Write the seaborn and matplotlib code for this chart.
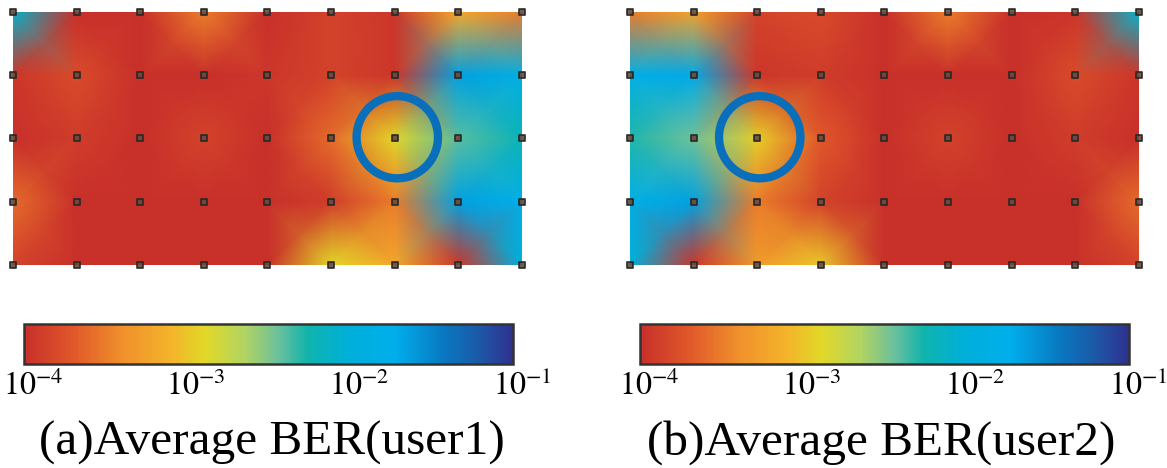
import matplotlib
matplotlib.use("Agg")
import matplotlib.pyplot as plt
import matplotlib.transforms as mtransforms
import numpy as np
import pandas as pd
import seaborn as sns
from matplotlib.colors import LinearSegmentedColormap, LogNorm
from matplotlib.patches import Ellipse

# log10(BER) on a 5 x 9 grid of measurement points (top row first)
user1_log_ber = [
    [-2.1, -4.0, -4.0, -3.5, -4.0, -3.85, -3.95, -3.2, -3.5],
    [-3.95, -3.8, -4.0, -4.0, -3.95, -3.85, -3.95, -1.65, -1.85],
    [-4.0, -3.9, -4.0, -3.85, -4.0, -3.6, -2.9, -2.4, -2.2],
    [-3.6, -4.0, -4.0, -4.0, -4.0, -3.9, -3.5, -1.65, -1.8],
    [-3.85, -4.0, -4.0, -4.0, -4.0, -2.9, -3.2, -3.95, -2.0],
]
user2_log_ber = [
    [-3.5, -3.25, -3.85, -3.8, -4.0, -3.5, -4.0, -3.95, -2.1],
    [-1.8, -1.7, -3.95, -3.9, -4.0, -4.0, -4.0, -3.8, -3.95],
    [-2.3, -2.45, -2.95, -3.7, -4.0, -3.85, -4.0, -3.9, -4.0],
    [-1.8, -1.65, -3.5, -3.85, -4.0, -4.0, -4.0, -4.0, -3.6],
    [-2.0, -3.95, -3.3, -3.0, -4.0, -4.0, -4.0, -4.0, -3.85],
]
captions = ["(a)Average BER(user1)", "(b)Average BER(user2)"]
highlight_points = [(6, 2), (2, 2)]  # (column, row) of the circled point
ber_ticks = [1e-4, 1e-3, 1e-2, 1e-1]
ber_tick_labels = [r"$10^{-4}$", r"$10^{-3}$", r"$10^{-2}$", r"$10^{-1}$"]

sns.set_theme(style="white")
plt.rcParams["font.family"] = ["Liberation Serif", "DejaVu Serif"]
plt.rcParams["mathtext.fontset"] = "stix"
plt.rcParams["text.color"] = "black"

ber_cmap = LinearSegmentedColormap.from_list(
    "ber",
    [
        (0.00, "#c8302a"),
        (0.10, "#e0582a"),
        (0.20, "#f0902c"),
        (0.30, "#f4b42a"),
        (0.37, "#e2d828"),
        (0.45, "#b2d462"),
        (0.52, "#6cc09c"),
        (0.58, "#10b4ac"),
        (0.66, "#00b0d8"),
        (0.76, "#00aeec"),
        (0.86, "#0878c0"),
        (0.93, "#1c5aa8"),
        (1.00, "#2e3190"),
    ],
)

fig = plt.figure(figsize=(11.67, 4.68), dpi=100)

panels = [
    (user1_log_ber, 0.0111, 0.0206, 0.233),
    (user2_log_ber, 0.5398, 0.5484, 0.755),
]

for i, (grid, ax_left, cb_left, cap_x) in enumerate(panels):
    values = np.array(grid)
    n_rows, n_cols = values.shape

    ax = fig.add_axes([ax_left, 0.4338, 0.4362, 0.5406])
    ax.pcolormesh(
        np.arange(n_cols), np.arange(n_rows), values,
        shading="gouraud", cmap=ber_cmap, vmin=-4, vmax=-1,
    )

    points = pd.DataFrame(
        [(c, r) for r in range(n_rows) for c in range(n_cols)], columns=["col", "row"]
    )
    sns.scatterplot(
        data=points, x="col", y="row", ax=ax, marker="s", s=20,
        facecolor="#6a4a3a", edgecolor="#262626", linewidth=1.3,
        alpha=0.9, clip_on=False, zorder=3,
    )

    hc, hr = highlight_points[i]
    ax.add_patch(Ellipse((hc + 0.04, hr - 0.02), 1.28, 1.3, fill=False,
                         edgecolor="#0a6fbb", linewidth=6, zorder=4))

    ax.set_xlim(0, n_cols - 1)
    ax.set_ylim(n_rows - 1, 0)
    ax.set_xlabel("")
    ax.set_ylabel("")
    ax.set_xticks([])
    ax.set_yticks([])
    for spine in ax.spines.values():
        spine.set_visible(False)

    cax = fig.add_axes([cb_left, 0.2222, 0.4190, 0.0855])
    sm = plt.cm.ScalarMappable(norm=LogNorm(1e-4, 1e-1), cmap=ber_cmap)
    cb = fig.colorbar(sm, cax=cax, orientation="horizontal", ticks=ber_ticks)
    cb.minorticks_off()
    cb.outline.set_edgecolor("#333333")
    cb.outline.set_linewidth(1.8)
    cax.tick_params(axis="x", length=0, labelbottom=False)

    # tick labels sit a little right of the tick, as in the source figure
    label_tf = mtransforms.blended_transform_factory(cax.transData, cax.transAxes)
    label_tf = label_tf + mtransforms.ScaledTranslation(9 / 100, -7 / 100, fig.dpi_scale_trans)
    for tick, label in zip(ber_ticks, ber_tick_labels):
        cax.text(tick, 0, label, transform=label_tf, ha="center", va="top",
                 fontsize=23, clip_on=False)

    fig.text(cap_x, 0.028, captions[i], ha="center", va="baseline", fontsize=35.5)

fig.savefig("out.png", dpi=100)
